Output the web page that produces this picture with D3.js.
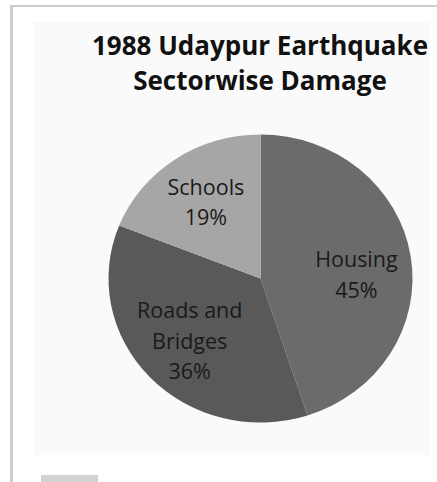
<!DOCTYPE html>
<html>
<head>
<meta charset="utf-8">
<script src="https://cdn.jsdelivr.net/npm/d3@7"></script>
<style>
  html, body { margin: 0; padding: 0; background: #ffffff; }
  svg { display: block; }
</style>
</head>
<body>
<svg id="chart" width="437" height="482"></svg>
<script>
// ---- data ----
const titleLines = ["1988 Udaypur Earthquake", "Sectorwise Damage"];
const categories = ["Housing", "Roads and Bridges", "Schools"];
const labelLines = [["Housing"], ["Roads and", "Bridges"], ["Schools"]];
const values = [45, 36, 19];
const sliceColors = ["#6b6b6b", "#595959", "#a6a6a6"];

// ---- layout ----
const W = 437, H = 482;
const cx = 260.5, cy = 278.5;
const ry = 144, rx = 152;
const sx = rx / ry;

const svg = d3.select("#chart");

// frame lines
svg.append("rect").attr("x", 10).attr("y", 5).attr("width", W - 10).attr("height", 2).attr("fill", "#cdcdcd");
svg.append("rect").attr("x", 10).attr("y", 5).attr("width", 3).attr("height", H - 5).attr("fill", "#cdcdcd");

// chart panel
svg.append("rect").attr("x", 33).attr("y", 22).attr("width", 396).attr("height", 433).attr("fill", "#fafafa");

// small grey tab at bottom-left
svg.append("rect").attr("x", 41).attr("y", 475).attr("width", 57).attr("height", 7).attr("fill", "#d2d2d2");

// title
const title = svg.append("text")
  .attr("text-anchor", "middle")
  .attr("font-family", "'Open Sans', 'Noto Sans', sans-serif")
  .attr("font-weight", "bold")
  .attr("font-size", 26)
  .attr("fill", "#111");
titleLines.forEach((t, i) => {
  title.append("tspan").attr("x", 260).attr("y", 55 + i * 35).text(t);
});

// pie
const total = d3.sum(values);
const pie = d3.pie().sort(null).value(d => d)(values);
const arc = d3.arc().innerRadius(0).outerRadius(ry);
const labelArc = d3.arc().innerRadius(92).outerRadius(92);

const g = svg.append("g").attr("transform", `translate(${cx},${cy}) scale(${sx},1)`);
g.selectAll("path.slice")
  .data(pie)
  .join("path")
  .attr("class", "slice")
  .attr("d", arc)
  .attr("fill", (d, i) => sliceColors[i])
  .attr("stroke", "none");

// labels
const fmt = d => Math.round(d / total * 100) + "%";
const lg = svg.append("g").attr("transform", `translate(${cx},${cy})`);
pie.forEach((d, i) => {
  const [lx, ly] = labelArc.centroid(d);
  const lines = labelLines[i].concat([fmt(d.value)]);
  const n = lines.length;
  const step = 30.5;
  const t = lg.append("text")
    .attr("text-anchor", "middle")
    .attr("font-family", "'Open Sans', 'Noto Sans', sans-serif")
    .attr("font-size", 21.5)
    .attr("fill", "#1a1a1a");
  const y0 = ly - (n - 1) * step / 2 + 7.5 + (i === 0 ? 11 : 0);
  lines.forEach((s, k) => {
    t.append("tspan").attr("x", lx * sx).attr("y", y0 + k * step).text(s);
  });
});
</script>
</body>
</html>
